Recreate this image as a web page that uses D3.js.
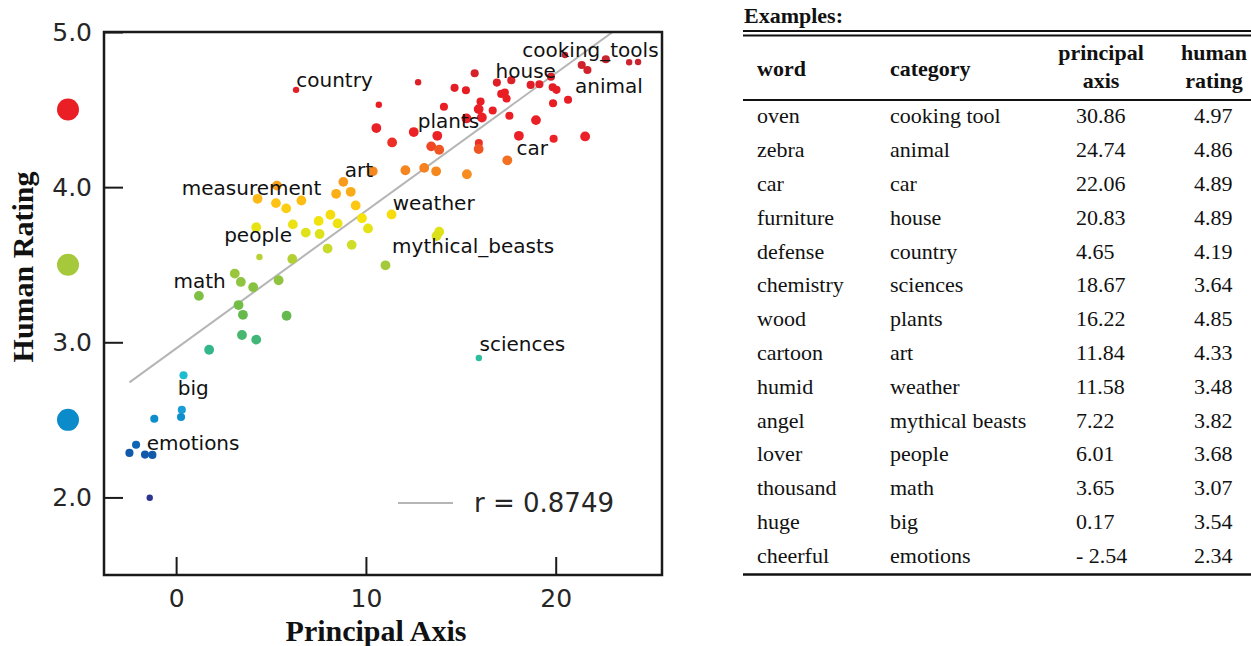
<!DOCTYPE html>
<html>
<head>
<meta charset="utf-8">
<script src="https://cdn.jsdelivr.net/npm/d3@7"></script>
<style>
  body { margin: 0; background: #fff; }
</style>
</head>
<body>
<div id="chart"></div>
<script>
// ---- data ----
// scatter: principal axis (x), human rating (y), dot weight (1 small .. 3 big)
const pointX = [
  20.49, 21.37, 21.67, 22.64, 23.87, 24.34, 15.73, 12.75, 14.67, 15.27,
  16.90, 17.66, 18.68, 19.14, 19.75, 19.84, 20.04, 16.04, 14.11, 17.13,
  17.32, 17.41, 15.94, 16.68, 16.11, 17.56, 18.96, 19.86, 20.65, 15.30,
  12.52, 13.76, 11.38, 10.68, 10.55, 18.06, 19.89, 21.55, 13.44, 13.86,
  15.95, 15.94, 17.45, 12.08, 13.07, 13.70, 15.32, 6.32,
  10.36, 8.81, 5.31, 8.43, 9.20, 4.29, 5.26, 5.80, 6.60, 9.46,
  8.13, 9.79, 11.35, 7.51, 8.51, 6.15, 4.22, 6.83, 7.56, 10.11,
  7.98, 9.25, 4.39, 6.12, 13.86, 13.72, 11.03,
  3.09, 3.41, 4.06, 5.40, 1.20, 3.29, 3.52, 5.82, 3.47, 4.22,
  1.74, 15.95, 0.39, 0.30, 0.26, -1.15, -2.11, -2.46, -1.64, -1.25, -1.39
];
const pointY = [
  4.852, 4.787, 4.755, 4.824, 4.805, 4.807, 4.734, 4.676, 4.640, 4.625,
  4.674, 4.689, 4.659, 4.663, 4.712, 4.644, 4.627, 4.552, 4.518, 4.601,
  4.610, 4.571, 4.503, 4.494, 4.449, 4.460, 4.432, 4.541, 4.563, 4.443,
  4.355, 4.331, 4.288, 4.531, 4.381, 4.331, 4.312, 4.327, 4.263, 4.241,
  4.285, 4.246, 4.173, 4.109, 4.124, 4.102, 4.083, 4.627,
  4.102, 4.034, 4.010, 3.957, 3.970, 3.925, 3.897, 3.863, 3.914, 3.882,
  3.822, 3.800, 3.824, 3.782, 3.766, 3.760, 3.742, 3.707, 3.698, 3.734,
  3.604, 3.628, 3.550, 3.537, 3.713, 3.685, 3.496,
  3.443, 3.389, 3.355, 3.400, 3.299, 3.240, 3.177, 3.171, 3.047, 3.017,
  2.952, 2.899, 2.788, 2.565, 2.518, 2.507, 2.340, 2.287, 2.276, 2.274, 1.998
];
const pointWeight = [
  1, 2, 2, 2, 1, 1, 2, 1, 2, 2,
  2, 2, 2, 2, 2, 2, 2, 2, 2, 2,
  2, 2, 3, 2, 3, 2, 3, 2, 2, 3,
  3, 3, 3, 1, 3, 3, 2, 3, 3, 3,
  2, 3, 3, 3, 3, 3, 3, 1,
  3, 3, 3, 3, 3, 3, 3, 3, 3, 3,
  3, 3, 3, 3, 3, 3, 3, 3, 3, 3,
  3, 3, 1, 3, 3, 3, 3,
  3, 3, 3, 3, 3, 3, 3, 3, 3, 3,
  3, 1, 2, 2, 2, 2, 2, 2, 2, 2, 1
];

// category labels and where they sit (data coords of text start)
const labelNames = ["cooking_tools", "country", "house", "animal", "plants", "car", "art",
  "measurement", "weather", "people", "mythical_beasts", "math", "sciences", "big", "emotions"];
const labelX = [18.24, 6.33, 16.83, 21.02, 12.73, 17.93, 8.88, 0.30, 11.41, 2.53, 11.38, -0.14, 15.99, 0.09, -1.55];
const labelY = [4.837, 4.646, 4.702, 4.610, 4.381, 4.209, 4.064, 3.952, 3.852, 3.646, 3.574, 3.347, 2.946, 2.662, 2.304];

// fitted line
const fitIntercept = 2.96;
const fitSlope = 0.0887;
const fitLabel = "r = 0.8749";

// colour key markers on the left
const keyLevels = [4.5, 3.5, 2.5];

const xTicks = [0, 10, 20];
const yTicks = [2.0, 3.0, 4.0, 5.0];

// table
const exampleWords = ["oven", "zebra", "car", "furniture", "defense", "chemistry", "wood",
  "cartoon", "humid", "angel", "lover", "thousand", "huge", "cheerful"];
const exampleCategories = ["cooking tool", "animal", "car", "house", "country", "sciences", "plants",
  "art", "weather", "mythical beasts", "people", "math", "big", "emotions"];
const examplePrincipal = [30.86, 24.74, 22.06, 20.83, 4.65, 18.67, 16.22, 11.84, 11.58, 7.22, 6.01, 3.65, 0.17, -2.54];
const exampleHuman = [4.97, 4.86, 4.89, 4.89, 4.19, 3.64, 4.85, 4.33, 3.48, 3.82, 3.68, 3.07, 3.54, 2.34];

// ---- drawing ----
const W = 1251, H = 646;
const plot = {left: 104, top: 32, right: 662, bottom: 575};

const svg = d3.select("#chart")
  .append("svg")
    .attr("width", W)
    .attr("height", H);

const x = d3.scaleLinear().domain([-3.8, 25.6]).range([plot.left, plot.right]);
const y = d3.scaleLinear().domain([1.5, 5.0]).range([plot.bottom, plot.top]);
const r = d3.scaleLinear().domain([1, 3]).range([3.2, 4.9]);

// rating -> colour (rainbow like the original)
const color = d3.scaleLinear()
  .domain([2.0, 2.3, 2.5, 2.6, 2.78, 2.88, 2.95, 3.05, 3.2, 3.35, 3.5, 3.6, 3.7, 3.8, 3.88, 3.95, 4.05, 4.15, 4.25, 4.3, 4.6, 4.85])
  .range(["#2b3490", "#0e5cad", "#0c8bcb", "#1ea6de", "#19bdd2", "#2dbfa6", "#33b68c", "#48b76d",
          "#6bbb47", "#86c241", "#a5c93a", "#c8db2a", "#dde21a", "#f5e30b", "#fdc812", "#fbb117",
          "#f7971d", "#f47920", "#f05223", "#ec2227", "#e91c24", "#c52630"])
  .clamp(true);

const points = pointX.map((d, i) => ({x: d, y: pointY[i], w: pointWeight[i]}));

svg.append("clipPath")
    .attr("id", "plotClip")
  .append("rect")
    .attr("x", plot.left)
    .attr("y", plot.top)
    .attr("width", plot.right - plot.left)
    .attr("height", plot.bottom - plot.top);

// y axis (ticks point inward)
svg.append("g")
  .attr("transform", `translate(${plot.left},0)`)
  .call(d3.axisLeft(y).tickValues(yTicks).tickFormat(d3.format(".1f"))
    .tickSizeInner(-19).tickSizeOuter(0).tickPadding(12))
  .call(g => g.select(".domain").remove())
  .call(g => g.selectAll("line").attr("stroke", "#1a1a1a").attr("stroke-width", 2))
  .call(g => g.selectAll("text")
    .attr("font-family", "DejaVu Sans")
    .attr("font-size", 25)
    .attr("fill", "#262626"));

// x axis
svg.append("g")
  .attr("transform", `translate(0,${plot.bottom})`)
  .call(d3.axisBottom(x).tickValues(xTicks).tickFormat(d3.format("d"))
    .tickSizeInner(-18).tickSizeOuter(0).tickPadding(14))
  .call(g => g.select(".domain").remove())
  .call(g => g.selectAll("line").attr("stroke", "#1a1a1a").attr("stroke-width", 2))
  .call(g => g.selectAll("text")
    .attr("font-family", "DejaVu Sans")
    .attr("font-size", 25)
    .attr("fill", "#262626"));

// fitted line, from smallest to largest x, clipped by the frame
const xExtent = d3.extent(pointX);
svg.append("path")
  .datum(xExtent)
  .attr("clip-path", "url(#plotClip)")
  .attr("d", d3.line().x(d => x(d)).y(d => y(fitIntercept + fitSlope * d)))
  .attr("fill", "none")
  .attr("stroke", "#b5b5b5")
  .attr("stroke-width", 2);

// dots
svg.append("g")
  .selectAll("circle")
  .data(points)
  .join("circle")
    .attr("cx", d => x(d.x))
    .attr("cy", d => y(d.y))
    .attr("r", d => r(d.w))
    .attr("fill", d => color(d.y));

// category labels
svg.append("g")
  .selectAll("text")
  .data(labelNames)
  .join("text")
    .attr("x", (d, i) => x(labelX[i]))
    .attr("y", (d, i) => y(labelY[i]))
    .attr("font-family", "DejaVu Sans")
    .attr("font-size", 20)
    .attr("fill", "#111")
    .text(d => d);

// frame
svg.append("rect")
  .attr("x", plot.left)
  .attr("y", plot.top)
  .attr("width", plot.right - plot.left)
  .attr("height", plot.bottom - plot.top)
  .attr("fill", "none")
  .attr("stroke", "#1a1a1a")
  .attr("stroke-width", 2.5);

// legend for the fitted line
svg.append("line")
  .attr("x1", 398).attr("x2", 453)
  .attr("y1", 503).attr("y2", 503)
  .attr("stroke", "#b5b5b5")
  .attr("stroke-width", 2);
svg.append("text")
  .attr("x", 474)
  .attr("y", 503)
  .attr("dy", "0.36em")
  .attr("font-family", "DejaVu Sans")
  .attr("font-size", 26)
  .attr("fill", "#262626")
  .text(fitLabel);

// colour key dots left of the axis
svg.append("g")
  .selectAll("circle")
  .data(keyLevels)
  .join("circle")
    .attr("cx", 68)
    .attr("cy", d => y(d))
    .attr("r", 11)
    .attr("fill", d => color(d));

// axis titles
svg.append("text")
  .attr("transform", "translate(33,267) rotate(-90)")
  .attr("text-anchor", "middle")
  .attr("font-family", "Liberation Serif")
  .attr("font-weight", "bold")
  .attr("font-size", 30)
  .attr("fill", "#111")
  .text("Human Rating");

svg.append("text")
  .attr("x", 376)
  .attr("y", 641)
  .attr("text-anchor", "middle")
  .attr("font-family", "Liberation Serif")
  .attr("font-weight", "bold")
  .attr("font-size", 30)
  .attr("fill", "#111")
  .text("Principal Axis");

// ---- examples table ----
const table = svg.append("g")
  .attr("font-family", "Liberation Serif")
  .attr("font-size", 22)
  .attr("fill", "#111");

table.append("text")
  .attr("x", 744).attr("y", 23)
  .attr("font-weight", "bold")
  .text("Examples:");

const rule = (yy, w) => table.append("line")
  .attr("x1", 743).attr("x2", W)
  .attr("y1", yy).attr("y2", yy)
  .attr("stroke", "#111")
  .attr("stroke-width", w);
rule(31, 2);
rule(35.5, 2);
rule(100, 2.2);
rule(574.5, 2.5);

const head = table.append("g").attr("font-weight", "bold");
head.append("text").attr("x", 757).attr("y", 76).text("word");
head.append("text").attr("x", 890).attr("y", 76).text("category");
[["principal", "axis", 1101], ["human", "rating", 1214]].forEach(h => {
  head.append("text").attr("x", h[2]).attr("y", 60).attr("text-anchor", "middle").text(h[0]);
  head.append("text").attr("x", h[2]).attr("y", 88).attr("text-anchor", "middle").text(h[1]);
});

const f2 = d3.format(".2f");
const fmtSigned = v => v < 0 ? "- " + f2(-v) : f2(v);
const rowY = d3.scaleLinear().domain([0, exampleWords.length - 1]).range([123.3, 562.7]);

const rows = table.selectAll(".row")
  .data(exampleWords)
  .join("g")
    .attr("class", "row")
    .attr("transform", (d, i) => `translate(0,${rowY(i)})`);

rows.append("text").attr("x", 757).text(d => d);
rows.append("text").attr("x", 890).text((d, i) => exampleCategories[i]);
rows.append("text").attr("x", 1076).text((d, i) => fmtSigned(examplePrincipal[i]));
rows.append("text").attr("x", 1194).text((d, i) => f2(exampleHuman[i]));
</script>
</body>
</html>
